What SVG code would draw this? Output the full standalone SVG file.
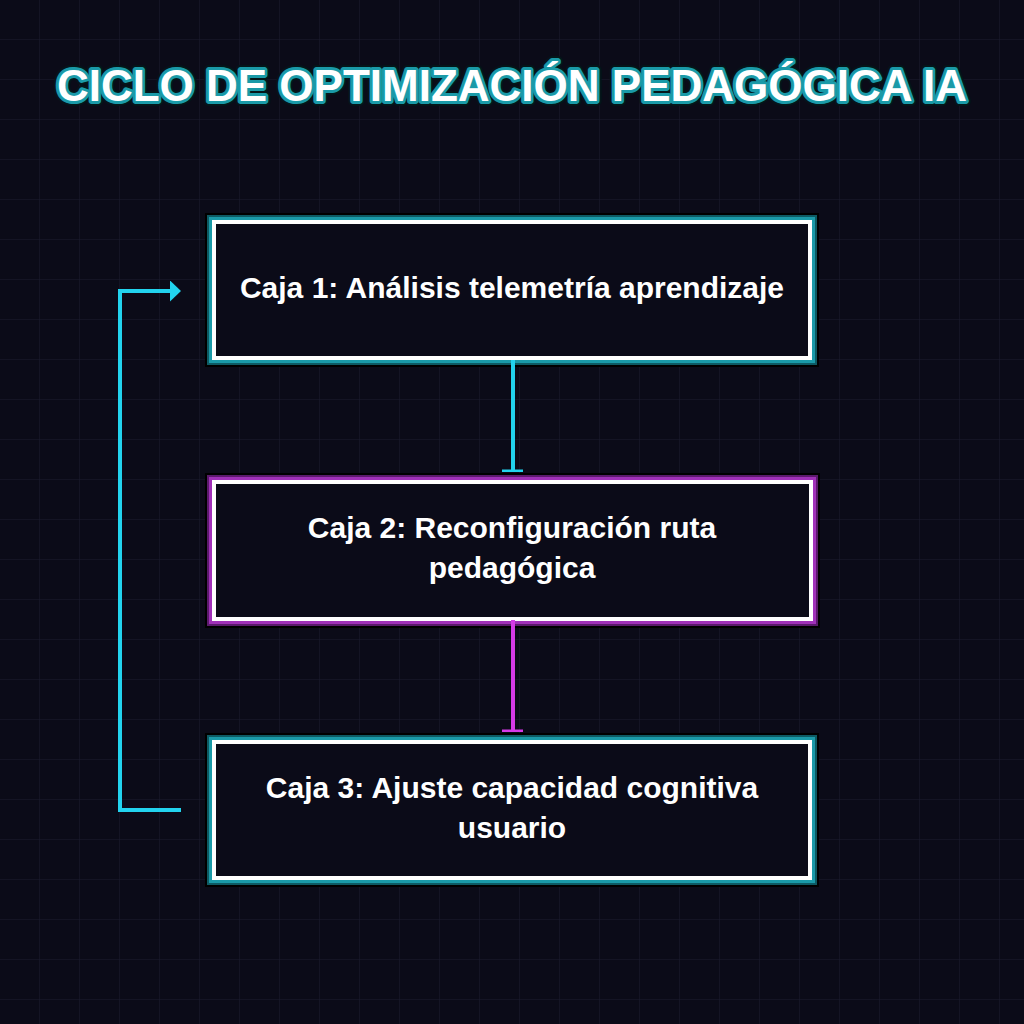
<svg xmlns="http://www.w3.org/2000/svg" width="1024" height="1024" viewBox="0 0 1024 1024">
<defs>
<pattern id="grid" width="40" height="40" patternUnits="userSpaceOnUse">
<path d="M40 0 V40 M0 40 H40" fill="none" stroke="#1b1b30" stroke-width="1"/>
</pattern>
<marker id="arr" markerWidth="11" markerHeight="21" refX="0" refY="10.5" orient="auto" markerUnits="userSpaceOnUse">
<path d="M0 0 L11 10.5 L0 21 Z" fill="#22d3ee"/>
</marker>
</defs>
<style>
.bx0{fill:none;stroke:#000;stroke-width:18}
.bx1c{fill:none;stroke:#0d5a63;stroke-width:14}
.bx2c{fill:none;stroke:#1a9aa8;stroke-width:10}
.bx1m{fill:none;stroke:#5b1a6c;stroke-width:14}
.bx2m{fill:none;stroke:#a030b8;stroke-width:10}
.bxw{fill:#0b0b18;stroke:#fff;stroke-width:4}
.lbl{font-family:"Liberation Sans",Arial,sans-serif;font-weight:bold;font-size:30px;fill:#fff;text-anchor:middle}
.title{font-family:"Liberation Sans",Arial,sans-serif;font-weight:bold;font-size:44px;text-anchor:middle}
</style>
<rect width="1024" height="1024" fill="#0b0b18"/>
<rect width="1024" height="1024" fill="url(#grid)"/>
<g id="title">
<text class="title" x="512" y="101" fill="#000" stroke="#04161a" stroke-width="10" stroke-linejoin="round">CICLO DE OPTIMIZACIÓN PEDAGÓGICA IA</text>
<text class="title" x="512" y="101" fill="#fff" stroke="#1a9aa8" stroke-width="6" stroke-linejoin="round">CICLO DE OPTIMIZACIÓN PEDAGÓGICA IA</text>
<text class="title" x="512" y="101" fill="#fff">CICLO DE OPTIMIZACIÓN PEDAGÓGICA IA</text>
</g>
<g id="node1">
<rect class="bx0" x="214" y="222" width="596" height="136"/>
<rect class="bx1c" x="214" y="222" width="596" height="136"/>
<rect class="bx2c" x="214" y="222" width="596" height="136"/>
<rect class="bxw" x="214" y="222" width="596" height="136"/>
<text class="lbl" x="512" y="298">Caja 1: Análisis telemetría aprendizaje</text>
</g>
<g id="node2">
<rect class="bx0" x="214" y="482" width="597" height="137"/>
<rect class="bx1m" x="214" y="482" width="597" height="137"/>
<rect class="bx2m" x="214" y="482" width="597" height="137"/>
<rect class="bxw" x="214" y="482" width="597" height="137"/>
<text class="lbl" x="512" y="538">Caja 2: Reconfiguración ruta</text>
<text class="lbl" x="512" y="578">pedagógica</text>
</g>
<g id="node3">
<rect class="bx0" x="214" y="742" width="596" height="136"/>
<rect class="bx1c" x="214" y="742" width="596" height="136"/>
<rect class="bx2c" x="214" y="742" width="596" height="136"/>
<rect class="bxw" x="214" y="742" width="596" height="136"/>
<text class="lbl" x="512" y="798">Caja 3: Ajuste capacidad cognitiva</text>
<text class="lbl" x="512" y="838">usuario</text>
</g>
<g id="connectors">
<line x1="513" y1="360" x2="513" y2="471" stroke="#22d3ee" stroke-width="4"/>
<rect x="502" y="469.5" width="21" height="2.5" fill="#22d3ee"/>
<line x1="513" y1="620" x2="513" y2="731" stroke="#d63ae8" stroke-width="4"/>
<rect x="502" y="729.5" width="21" height="2.5" fill="#d63ae8"/>
<polyline points="181,810 120,810 120,291 170,291" fill="none" stroke="#22d3ee" stroke-width="4" marker-end="url(#arr)"/>
</g>
</svg>
